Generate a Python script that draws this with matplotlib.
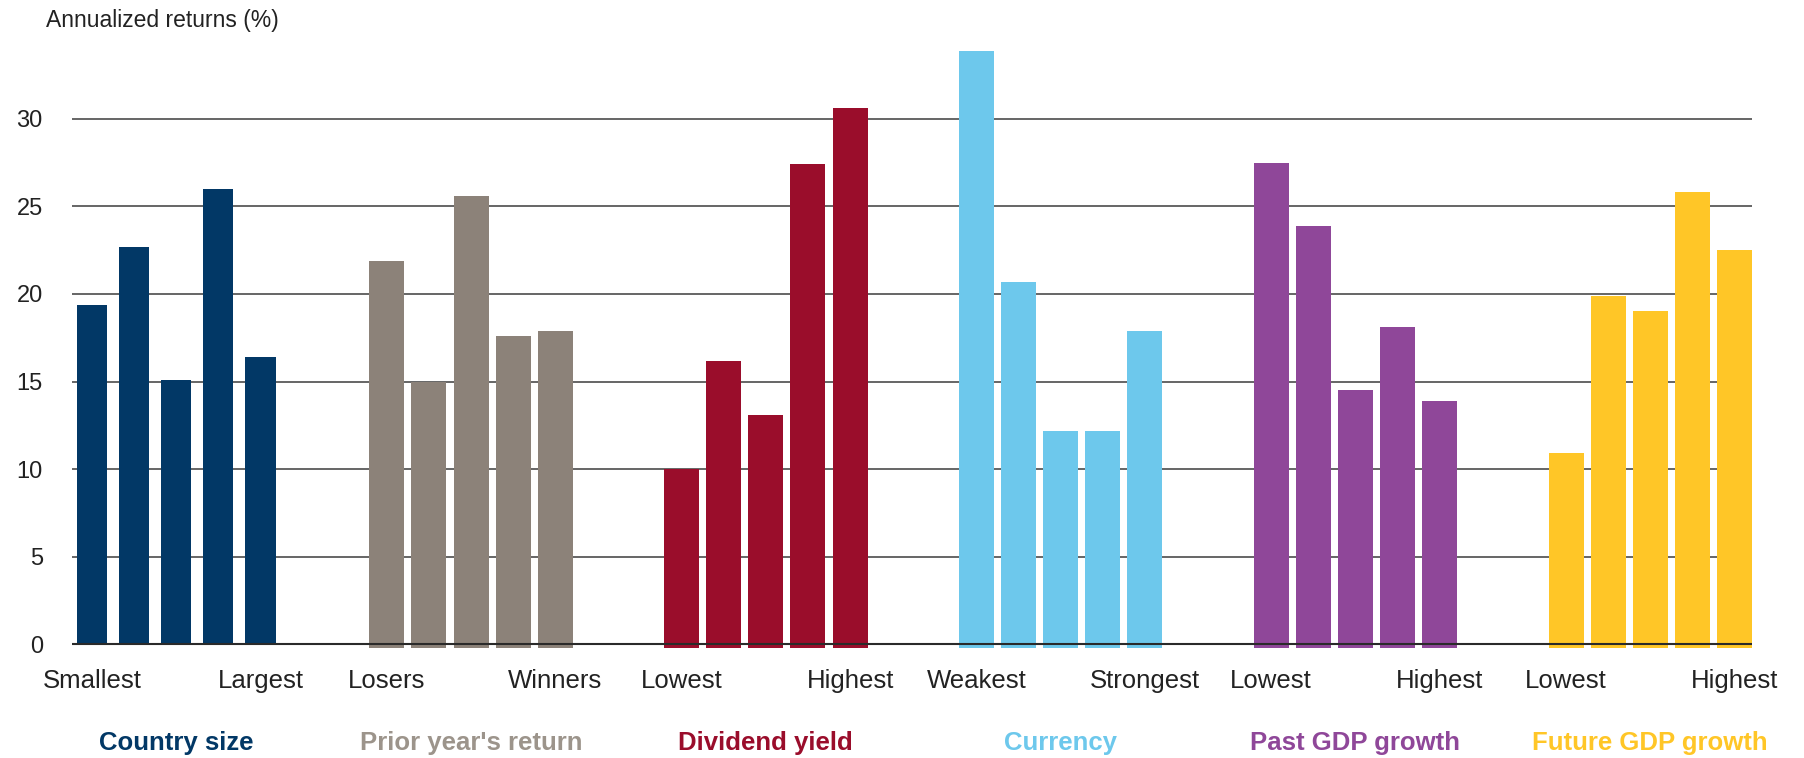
import matplotlib
matplotlib.use("Agg")
import matplotlib.pyplot as plt
import matplotlib.transforms as mtransforms

plt.rcParams['font.family'] = ['Liberation Sans', 'DejaVu Sans']

# Annualized returns (%) by quintile for each sorting characteristic
groups = ["Country size", "Prior year's return", "Dividend yield",
          "Currency", "Past GDP growth", "Future GDP growth"]
end_labels = [("Smallest", "Largest"), ("Losers", "Winners"), ("Lowest", "Highest"),
              ("Weakest", "Strongest"), ("Lowest", "Highest"), ("Lowest", "Highest")]
country_size = [19.35, 22.7, 15.1, 26.0, 16.4]
prior_year = [21.9, 15.0, 25.6, 17.6, 17.9]
dividend_yield = [10.0, 16.2, 13.1, 27.4, 30.6]
currency = [33.85, 20.7, 12.2, 12.2, 17.9]
past_gdp = [27.5, 23.9, 14.5, 18.1, 13.9]
future_gdp = [10.9, 19.9, 19.0, 25.8, 22.5]
yticks = [0, 5, 10, 15, 20, 25, 30]

series = [country_size, prior_year, dividend_yield, currency, past_gdp, future_gdp]
colors = ["#023866", "#8C8279", "#9A0D2B", "#6DC8EC", "#8F4799", "#FFC627"]
name_colors = ["#023866", "#9C948B", "#9A0D2B", "#6DC8EC", "#8F4799", "#FFC627"]
bar_widths = [0.72, 0.83, 0.83, 0.83, 0.83, 0.83]
overhang = [0.0, 0.22, 0.22, 0.22, 0.22, 0.22]
group_step = 7

fig = plt.figure(figsize=(18.04, 7.58), dpi=100)
ax = fig.add_axes([0.0399, 0.1386, 0.9313, 0.8201])

for g, vals in enumerate(series):
    xs = [g * group_step + j for j in range(len(vals))]
    base = -overhang[g]
    ax.bar(xs, [v - base for v in vals], bottom=base, width=bar_widths[g],
           color=colors[g], zorder=2, linewidth=0)

ax.set_xlim(-0.475, 39.416)
ax.set_ylim(-0.5, 35)
ax.set_yticks(yticks)
ax.set_yticklabels([str(t) for t in yticks])
ax.set_xticks([])
ax.tick_params(axis='y', length=0, pad=21, labelsize=17, labelcolor="#222222")
for s in ax.spines.values():
    s.set_visible(False)

ax.yaxis.grid(True, color="#3c3c3c", linewidth=1.1)
ax.set_axisbelow(True)
ax.axhline(0, color="#2a2a2a", linewidth=1.5, zorder=3)

trans = mtransforms.blended_transform_factory(ax.transData, fig.transFigure)
for g, name in enumerate(groups):
    x0 = g * group_step
    lo, hi = end_labels[g]
    ax.text(x0, 1 - 681 / 758, lo, transform=trans, ha='center', va='center',
            fontsize=18.5, color="#222222")
    ax.text(x0 + 4, 1 - 681 / 758, hi, transform=trans, ha='center', va='center',
            fontsize=18.5, color="#222222")
    ax.text(x0 + 2, 1 - 743 / 758, name, transform=trans, ha='center', va='center',
            fontsize=18.5, fontweight='bold', color=name_colors[g])

fig.text(0.0255, 1 - 21 / 758, "Annualized returns (%)", ha='left', va='center',
         fontsize=16.5, color="#222222")

fig.savefig("out.png", dpi=100)
